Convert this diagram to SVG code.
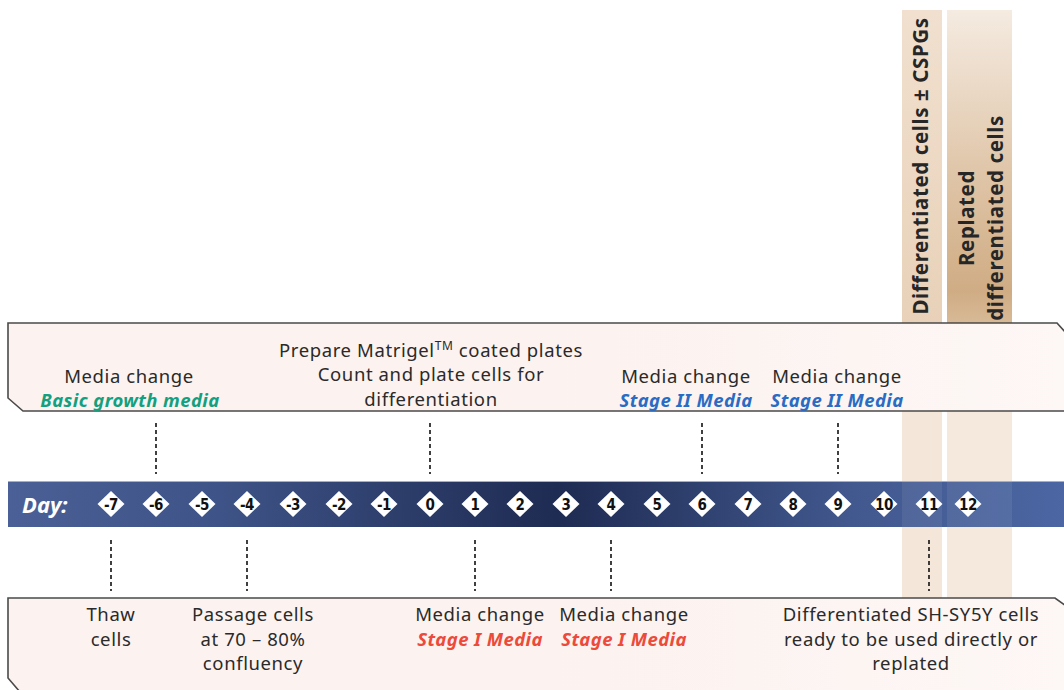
<svg xmlns="http://www.w3.org/2000/svg" width="1064" height="690" viewBox="0 0 1064 690">
<defs>
<linearGradient id="bar" x1="0" y1="0" x2="1" y2="0">
<stop offset="0" stop-color="#4a6096"/>
<stop offset="0.2" stop-color="#3e5387"/>
<stop offset="0.52" stop-color="#1e2b52"/>
<stop offset="0.8" stop-color="#42598f"/>
<stop offset="1" stop-color="#4b66a3"/>
</linearGradient>
<linearGradient id="tan1" x1="0" y1="0" x2="0" y2="1">
<stop offset="0" stop-color="#f1e0cf"/>
<stop offset="1" stop-color="#e8d1b8"/>
</linearGradient>
<linearGradient id="tan2" x1="0" y1="0" x2="0" y2="1">
<stop offset="0" stop-color="#f5ebe1"/>
<stop offset="0.6" stop-color="#dcc0a0"/>
<stop offset="0.9" stop-color="#cfac84"/>
<stop offset="1" stop-color="#d8ba97"/>
</linearGradient>
<linearGradient id="boxfill" x1="0" y1="0" x2="1" y2="0">
<stop offset="0" stop-color="#fcf3f1"/>
<stop offset="0.5" stop-color="#fcf2ef"/>
<stop offset="1" stop-color="#fdf7f5"/>
</linearGradient>
</defs>
<style>
.box{fill:url(#boxfill);stroke:#4a4a4a;stroke-width:1.6}
.t{font-family:"Noto Sans","DejaVu Sans",sans-serif;font-size:18.5px;letter-spacing:0.6px;fill:#2a2a2a;text-anchor:middle}
.em{font-weight:bold;font-style:italic;letter-spacing:0.4px}
.green{fill:#14a07e}
.blue{fill:#2a6cc4}
.red{fill:#ec4a3a}
.v{font-family:"Noto Sans","DejaVu Sans",sans-serif;font-size:20.5px;letter-spacing:0.6px;font-weight:bold;fill:#262626;text-anchor:middle}
.dia{fill:#ffffff}
.n{font-family:"DejaVu Sans Condensed","DejaVu Sans",sans-serif;font-size:15px;font-weight:bold;fill:#111;text-anchor:middle;letter-spacing:-0.5px}
.dash{stroke:#111;stroke-width:1.6;stroke-dasharray:4 3;fill:none}
</style>
<rect width="1064" height="690" fill="#ffffff"/>
<g id="columns">
<rect x="902" y="10" width="40" height="313" fill="url(#tan1)"/>
<rect x="947" y="10" width="65" height="313" fill="url(#tan2)"/>
<rect x="902" y="323" width="40" height="275" fill="#f4e6d8"/>
<rect x="947" y="323" width="65" height="275" fill="#f5e9dd"/>
<text class="v" transform="translate(928,166) rotate(-90)">Differentiated cells ± CSPGs</text>
<text class="v" transform="translate(974,218) rotate(-90)">Replated</text>
<text class="v" transform="translate(1003,218) rotate(-90)">differentiated cells</text>
</g>
<g id="top-box">
<path class="box" d="M8,323 L1057,323 L1066,333 L1066,411 L23,411 L8,398 Z"/>
<text class="t" x="129" y="383">Media change</text>
<text class="t em green" x="130" y="407">Basic growth media</text>
<text class="t" x="431" y="357">Prepare Matrigel<tspan font-size="12" dy="-7">TM</tspan><tspan dy="7"> coated plates</tspan></text>
<text class="t" x="431" y="381">Count and plate cells for</text>
<text class="t" x="431" y="406">differentiation</text>
<text class="t" x="686" y="383">Media change</text>
<text class="t em blue" x="686" y="407">Stage II Media</text>
<text class="t" x="837" y="383">Media change</text>
<text class="t em blue" x="837" y="407">Stage II Media</text>
</g>
<g id="bottom-box">
<path class="box" d="M8,598 L1055,598 L1066,606 L1066,692 L20,692 L8,678 Z"/>
<text class="t" x="111" y="621">Thaw</text>
<text class="t" x="111" y="646">cells</text>
<text class="t" x="253" y="621">Passage cells</text>
<text class="t" x="253" y="646">at 70 – 80%</text>
<text class="t" x="253" y="670">confluency</text>
<text class="t" x="480" y="621">Media change</text>
<text class="t em red" x="480" y="646">Stage I Media</text>
<text class="t" x="624" y="621">Media change</text>
<text class="t em red" x="624" y="646">Stage I Media</text>
<text class="t" x="911" y="621">Differentiated SH-SY5Y cells</text>
<text class="t" x="911" y="646">ready to be used directly or</text>
<text class="t" x="911" y="670">replated</text>
</g>
<g id="timeline">
<rect x="8" y="481" width="1058" height="46" fill="url(#bar)"/>
<line x1="8" y1="481.5" x2="1064" y2="481.5" stroke="#9fb0d0" stroke-width="1"/>
<rect x="902" y="482" width="40" height="45" fill="#ffffff" opacity="0.07"/>
<rect x="947" y="482" width="65" height="45" fill="#ffffff" opacity="0.07"/>
<text x="22" y="513" font-family="Noto Sans, DejaVu Sans, sans-serif" font-size="22" font-weight="bold" font-style="italic" fill="#ffffff">Day:</text>
</g>
<g id="day-markers">
<g id="d-7"><polygon class="dia" points="111,491 124.5,504 111,517 97.5,504"/><text class="n" x="111" y="509.5">-7</text></g>
<g id="d-6"><polygon class="dia" points="156,491 169.5,504 156,517 142.5,504"/><text class="n" x="156" y="509.5">-6</text></g>
<g id="d-5"><polygon class="dia" points="202,491 215.5,504 202,517 188.5,504"/><text class="n" x="202" y="509.5">-5</text></g>
<g id="d-4"><polygon class="dia" points="247,491 260.5,504 247,517 233.5,504"/><text class="n" x="247" y="509.5">-4</text></g>
<g id="d-3"><polygon class="dia" points="293,491 306.5,504 293,517 279.5,504"/><text class="n" x="293" y="509.5">-3</text></g>
<g id="d-2"><polygon class="dia" points="339,491 352.5,504 339,517 325.5,504"/><text class="n" x="339" y="509.5">-2</text></g>
<g id="d-1"><polygon class="dia" points="384,491 397.5,504 384,517 370.5,504"/><text class="n" x="384" y="509.5">-1</text></g>
<g id="d0"><polygon class="dia" points="430,491 443.5,504 430,517 416.5,504"/><text class="n" x="430" y="509.5">0</text></g>
<g id="d1"><polygon class="dia" points="475,491 488.5,504 475,517 461.5,504"/><text class="n" x="475" y="509.5">1</text></g>
<g id="d2"><polygon class="dia" points="520,491 533.5,504 520,517 506.5,504"/><text class="n" x="520" y="509.5">2</text></g>
<g id="d3"><polygon class="dia" points="566,491 579.5,504 566,517 552.5,504"/><text class="n" x="566" y="509.5">3</text></g>
<g id="d4"><polygon class="dia" points="611,491 624.5,504 611,517 597.5,504"/><text class="n" x="611" y="509.5">4</text></g>
<g id="d5"><polygon class="dia" points="657,491 670.5,504 657,517 643.5,504"/><text class="n" x="657" y="509.5">5</text></g>
<g id="d6"><polygon class="dia" points="702,491 715.5,504 702,517 688.5,504"/><text class="n" x="702" y="509.5">6</text></g>
<g id="d7"><polygon class="dia" points="748,491 761.5,504 748,517 734.5,504"/><text class="n" x="748" y="509.5">7</text></g>
<g id="d8"><polygon class="dia" points="793,491 806.5,504 793,517 779.5,504"/><text class="n" x="793" y="509.5">8</text></g>
<g id="d9"><polygon class="dia" points="838,491 851.5,504 838,517 824.5,504"/><text class="n" x="838" y="509.5">9</text></g>
<g id="d10"><polygon class="dia" points="884,491 897.5,504 884,517 870.5,504"/><text class="n" x="884" y="509.5">10</text></g>
<g id="d11"><polygon class="dia" points="929,491 942.5,504 929,517 915.5,504"/><text class="n" x="929" y="509.5">11</text></g>
<g id="d12"><polygon class="dia" points="968,491 981.5,504 968,517 954.5,504"/><text class="n" x="968" y="509.5">12</text></g>
</g>
<g id="connectors">
<line class="dash" x1="156" y1="423" x2="156" y2="474"/>
<line class="dash" x1="430" y1="423" x2="430" y2="474"/>
<line class="dash" x1="702" y1="423" x2="702" y2="474"/>
<line class="dash" x1="838" y1="423" x2="838" y2="474"/>
<line class="dash" x1="111" y1="540" x2="111" y2="591"/>
<line class="dash" x1="247" y1="540" x2="247" y2="591"/>
<line class="dash" x1="475" y1="540" x2="475" y2="591"/>
<line class="dash" x1="611" y1="540" x2="611" y2="591"/>
<line class="dash" x1="929" y1="540" x2="929" y2="591"/>
</g>
</svg>
